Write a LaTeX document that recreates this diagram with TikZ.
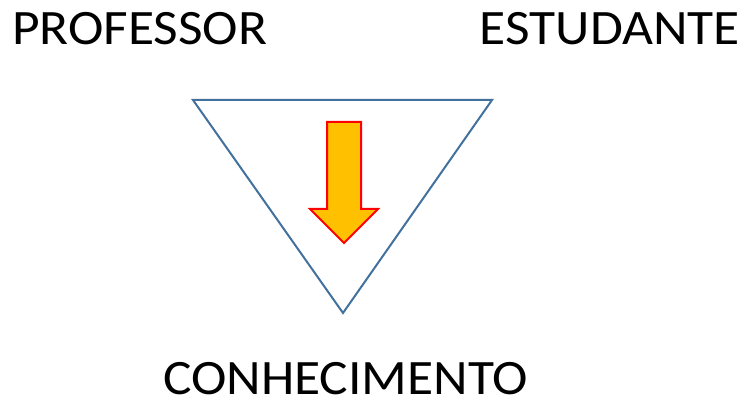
\documentclass[tikz,border=0pt]{standalone}
\usepackage{fontspec}
\setmainfont{Carlito}[FakeStretch=1.08]
\tikzset{
  role label/.style={
    inner sep=0pt,
    font=\fontsize{49.5}{54}\selectfont,
  },
  triangle line/.style={
    draw={rgb,255:red,65;green,113;blue,156},
    line width=2pt,
    line join=miter,
  },
  down arrow/.style={
    fill={rgb,255:red,255;green,192;blue,0},
    draw=red,
    line width=2pt,
    line join=miter,
  }
}
\begin{document}
\begin{tikzpicture}[x=1pt,y=-1pt]
    \useasboundingbox (0,0) rectangle (750,398);
    % labels
    \node [role label, anchor=base west] (prof) at (12,45) {PROFESSOR};
    \node [role label, anchor=base east] (est) at (740,45) {ESTUDANTE};
    \node [role label, anchor=base west] (conh) at (163,394) {CONHECIMENTO};
    % triangle
    \draw [triangle line] (193,100) -- (492,100) -- (343,313) -- cycle;
    % arrow
    \draw [down arrow] (327,122) -- (361,122) -- (361,209) -- (378,209)
        -- (344,243) -- (310,209) -- (327,209) -- cycle;
\end{tikzpicture}
\end{document}
